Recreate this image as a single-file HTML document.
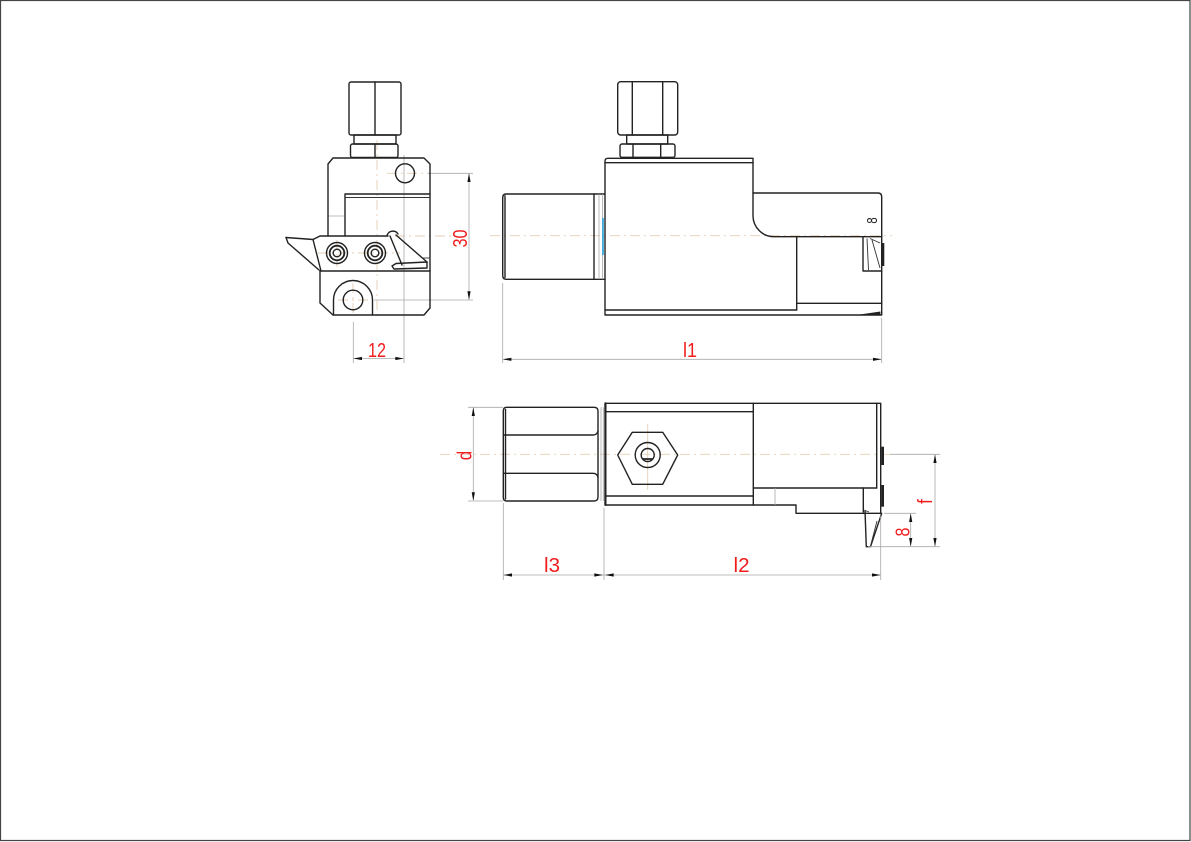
<!DOCTYPE html>
<html>
<head>
<meta charset="utf-8">
<style>
html,body{margin:0;padding:0;background:#fff;}
svg{display:block;}
.o{fill:none;stroke:#222;stroke-width:1.4;stroke-linecap:round;stroke-linejoin:round;}
.t{fill:none;stroke:#333;stroke-width:0.9;}
.g{fill:none;stroke:#a8a8a8;stroke-width:0.8;}
.c{fill:none;stroke:#e3cdb4;stroke-width:0.9;stroke-dasharray:10 4 2 4;}
.a{fill:#111;stroke:none;}
.r{fill:#f01c1c;font-family:"Liberation Sans",sans-serif;font-size:20px;}
</style>
</head>
<body>
<svg width="1191" height="842" viewBox="0 0 1191 842" xmlns="http://www.w3.org/2000/svg">
<rect x="0.5" y="0.5" width="1189.5" height="840" fill="#fff" stroke="#444" stroke-width="1.2"/>

<!-- ================= LEFT VIEW ================= -->
<line class="c" x1="377" y1="140" x2="377" y2="318"/>
<line class="c" x1="353" y1="283" x2="353" y2="316"/>
<line class="c" x1="337" y1="240" x2="337" y2="267"/>
<line class="c" x1="387" y1="173.3" x2="428" y2="173.3"/>
<line class="c" x1="395" y1="236" x2="458" y2="236"/>
<line class="c" x1="318" y1="253" x2="400" y2="253"/>
<line class="c" x1="338" y1="300" x2="368" y2="300"/>
<line class="g" x1="428" y1="173.3" x2="473" y2="173.3"/>
<line class="g" x1="374" y1="300" x2="473" y2="300"/>
<line class="g" x1="404" y1="155" x2="404" y2="363"/>
<line class="g" x1="353.3" y1="322" x2="353.3" y2="363"/>
<line class="g" x1="328" y1="216" x2="345" y2="216"/>

<rect class="o" x="349" y="82" width="52" height="53" rx="2"/>
<line class="o" x1="375" y1="82" x2="375" y2="135"/>
<rect class="o" x="354" y="135" width="42" height="9"/>
<rect class="o" x="350.5" y="144" width="47.5" height="13.5" rx="2"/>
<line class="o" x1="375" y1="144" x2="375" y2="157.5"/>

<path class="o" d="M328,236 L328,164 L333,158 L424,158 L430,164 L430,271"/>
<circle class="o" cx="405" cy="173.3" r="9.5"/>
<path class="o" d="M345,236 L345,194 L430,194"/>
<line class="t" x1="345" y1="197.5" x2="430" y2="197.5"/>

<path class="o" d="M286,237.5 L313,239.5 L320,236 L388,236"/>
<path class="o" d="M286,237.5 L288,243 L319,270"/>
<path class="o" d="M313,239.5 L321,271"/>
<path class="o" d="M387,236 A6,6 0 0 1 398,234"/>
<path class="o" d="M390,236 L402,265"/>
<path class="o" d="M396,235 L427,262"/>
<path class="o" d="M392,266 L396,263.5 L427,262 L427,268 L394,269 Z"/>
<line class="t" x1="422" y1="258" x2="430" y2="258"/>
<line class="o" x1="320" y1="271" x2="430" y2="271"/>
<circle class="o" cx="337" cy="253" r="10.5"/>
<circle class="o" cx="337" cy="253" r="7.3" style="stroke-width:1.8"/>
<circle class="o" cx="337" cy="253" r="3.8"/>
<circle class="o" cx="375" cy="253" r="10.5"/>
<circle class="o" cx="375" cy="253" r="7.3" style="stroke-width:1.8"/>
<circle class="o" cx="375" cy="253" r="3.8"/>

<path class="o" d="M320,271 L320,303 L333,315 L424,315 L430,308 L430,271"/>
<path class="o" d="M333.5,315 L333.5,300 A19.5,19.5 0 0 1 372.5,300 L372.5,315"/>
<circle class="o" cx="353" cy="300" r="9.8"/>

<line class="g" x1="469" y1="174" x2="469" y2="299"/>
<polygon class="a" points="469,173.3 467.4,182 470.6,182"/>
<polygon class="a" points="469,300 467.4,291.3 470.6,291.3"/>
<text class="r" text-anchor="middle" transform="translate(467,238.5) rotate(-90)" textLength="18" lengthAdjust="spacingAndGlyphs">30</text>
<line class="g" x1="354" y1="358.5" x2="403" y2="358.5"/>
<polygon class="a" points="353.3,358.5 362,356.9 362,360.1"/>
<polygon class="a" points="404,358.5 395.3,356.9 395.3,360.1"/>
<text class="r" x="377" y="357" text-anchor="middle" textLength="18" lengthAdjust="spacingAndGlyphs">12</text>

<!-- ================= TOP RIGHT VIEW ================= -->
<line class="c" x1="490" y1="235.7" x2="892" y2="235.7"/>
<rect class="o" x="617.7" y="81.7" width="60" height="53.3" rx="3"/>
<line class="o" x1="632.3" y1="81.7" x2="632.3" y2="135"/>
<line class="o" x1="662.7" y1="81.7" x2="662.7" y2="135"/>
<rect class="o" x="626.7" y="135" width="41" height="9"/>
<rect class="o" x="620" y="144" width="55" height="13.3" rx="2"/>
<line class="o" x1="633" y1="144" x2="633" y2="157.3"/>
<line class="o" x1="660.7" y1="144" x2="660.7" y2="157.3"/>

<path class="o" d="M594,194 L506,194 Q502.7,194 502.7,198 L502.7,275.3 Q502.7,279.3 506,279.3 L594,279.3 Z"/>
<line class="o" x1="505" y1="196" x2="505" y2="277.5"/>
<line class="o" x1="594" y1="194" x2="605" y2="194"/>
<line class="o" x1="594" y1="279.3" x2="605" y2="279.3"/>
<line class="g" x1="599" y1="194" x2="599" y2="279.3"/>
<line class="g" x1="602.5" y1="194" x2="602.5" y2="279.3"/>
<line x1="603" y1="218" x2="603" y2="255" stroke="#2aa7e0" stroke-width="1.6"/>

<path class="o" d="M605,315 L605,161 Q605,158.3 608,158.3 L753,158.3 L753,193 L878,193 Q881.7,193 881.7,197 L881.7,315 Z"/>
<line class="o" x1="605" y1="162.7" x2="753" y2="162.7"/>
<path class="o" d="M753,193 L753,216 A21,21 0 0 0 774,236.7 L881.7,236.7"/>
<line class="o" x1="796.7" y1="236.7" x2="796.7" y2="310"/>
<line class="o" x1="605" y1="310" x2="796.7" y2="310"/>
<line class="o" x1="796.7" y1="303.3" x2="881.7" y2="303.3"/>
<polygon points="859,315 880,312 880,315" fill="#222" stroke="#222" stroke-width="0.8"/>
<path class="o" d="M863,236.7 L863,271 L881.7,271"/>
<path class="t" d="M867,238.5 L868.5,270 M870,238.5 L880,243 M872,240 L880,268"/>
<line x1="883" y1="243" x2="883" y2="266" stroke="#222" stroke-width="2.6"/>
<text transform="translate(877,220.5) rotate(-90) scale(0.75,1)" text-anchor="middle" font-family="Liberation Sans, sans-serif" font-size="15" fill="#222">8</text>

<line class="g" x1="502.7" y1="283" x2="502.7" y2="363"/>
<line class="g" x1="881.7" y1="318" x2="881.7" y2="363"/>
<line class="g" x1="503.5" y1="359.3" x2="881" y2="359.3"/>
<polygon class="a" points="502.7,359.3 511.4,357.7 511.4,360.9"/>
<polygon class="a" points="881.7,359.3 873,357.7 873,360.9"/>
<text class="r" x="690" y="357" text-anchor="middle" textLength="14" lengthAdjust="spacingAndGlyphs">l1</text>

<!-- ================= BOTTOM VIEW ================= -->
<line class="c" x1="440" y1="454.3" x2="890" y2="454.3"/>
<line class="g" x1="890" y1="454.3" x2="940" y2="454.3"/>
<path class="o" d="M594,407.3 L506.5,407.3 Q503.3,407.3 503.3,411 L503.3,497.5 Q503.3,501 506.5,501 L594,501 Q598,501 598,497 L598,411 Q598,407.3 594,407.3 Z"/>
<line class="o" x1="505.5" y1="409.5" x2="505.5" y2="499"/>
<path class="o" d="M503.3,435 L593,435 Q597,435 598,431"/>
<path class="o" d="M503.3,473.3 L593,473.3 Q597,473.3 598,477.3"/>
<line class="g" x1="601" y1="407.3" x2="601" y2="501"/>
<line class="g" x1="603.3" y1="407.3" x2="603.3" y2="501"/>

<path class="o" d="M605,403.3 L880.7,403.3 L880.7,513.3 L796,513.3 L796,505 L605,505 Z"/>
<line class="o" x1="605.5" y1="403.3" x2="605.5" y2="505" style="stroke-width:2"/>
<line class="o" x1="605" y1="411.7" x2="753.3" y2="411.7"/>
<line class="o" x1="605" y1="496" x2="753.3" y2="496"/>
<line class="o" x1="753.3" y1="403.3" x2="753.3" y2="505"/>
<line class="o" x1="753.3" y1="488" x2="876.7" y2="488"/>
<line class="o" x1="876.7" y1="403.3" x2="876.7" y2="488"/>
<line class="o" x1="863.3" y1="488" x2="863.3" y2="512"/>
<line class="g" x1="775" y1="488" x2="775" y2="505"/>
<path class="o" d="M865,510.5 L866.3,546.7 L870.5,546.7 L881.7,513.3"/>
<path class="t" d="M877,521 L870.5,546 M865,510.5 L869,512"/>
<line x1="882.7" y1="446.7" x2="882.7" y2="465" stroke="#222" stroke-width="2.6"/>
<line x1="882.7" y1="485" x2="882.7" y2="506.7" stroke="#222" stroke-width="2.6"/>

<line class="c" x1="647.7" y1="424" x2="647.7" y2="490" style="stroke-dasharray:none"/>
<polygon class="o" points="617.7,455 632.3,432.3 662.7,432.3 677.7,455 662.7,484.3 632.3,484.3"/>
<circle class="o" cx="647.7" cy="455" r="12.5"/>
<circle class="o" cx="647.7" cy="455" r="6.5"/>
<line class="o" x1="643" y1="459" x2="652" y2="459" style="stroke-width:1.8"/>

<line class="g" x1="468" y1="407.3" x2="503" y2="407.3"/>
<line class="g" x1="468" y1="501" x2="503" y2="501"/>
<line class="g" x1="473.3" y1="408" x2="473.3" y2="500"/>
<polygon class="a" points="473.3,407.3 471.7,416 474.9,416"/>
<polygon class="a" points="473.3,501 471.7,492.3 474.9,492.3"/>
<text class="r" text-anchor="middle" transform="translate(471.5,455.5) rotate(-90) scale(0.85,1)">d</text>

<line class="g" x1="503.3" y1="503" x2="503.3" y2="580"/>
<line class="g" x1="604" y1="508" x2="604" y2="580"/>
<line class="g" x1="880.7" y1="516" x2="880.7" y2="580"/>
<line class="g" x1="504" y1="575" x2="880" y2="575"/>
<polygon class="a" points="503.3,575 512,573.4 512,576.6"/>
<polygon class="a" points="603,575 594.3,573.4 594.3,576.6"/>
<polygon class="a" points="605,575 613.7,573.4 613.7,576.6"/>
<polygon class="a" points="880.7,575 872,573.4 872,576.6"/>
<text class="r" x="552" y="572" text-anchor="middle" textLength="16" lengthAdjust="spacingAndGlyphs">l3</text>
<text class="r" x="741.5" y="572" text-anchor="middle" textLength="16" lengthAdjust="spacingAndGlyphs">l2</text>

<line class="g" x1="884" y1="513.3" x2="916" y2="513.3"/>
<line class="g" x1="868" y1="546.7" x2="940" y2="546.7"/>
<line class="g" x1="935" y1="455" x2="935" y2="546"/>
<polygon class="a" points="935,454.3 933.4,463 936.6,463"/>
<polygon class="a" points="935,546.7 933.4,538 936.6,538"/>
<text class="r" text-anchor="middle" transform="translate(932,501.5) rotate(-90) scale(0.85,1)">f</text>
<line class="g" x1="910.7" y1="514" x2="910.7" y2="546"/>
<polygon class="a" points="910.7,513.3 909.1,522 912.3,522"/>
<polygon class="a" points="910.7,546.7 909.1,538 912.3,538"/>
<text class="r" text-anchor="middle" transform="translate(909.5,532) rotate(-90) scale(0.8,1)">8</text>
</svg>
</body>
</html>
